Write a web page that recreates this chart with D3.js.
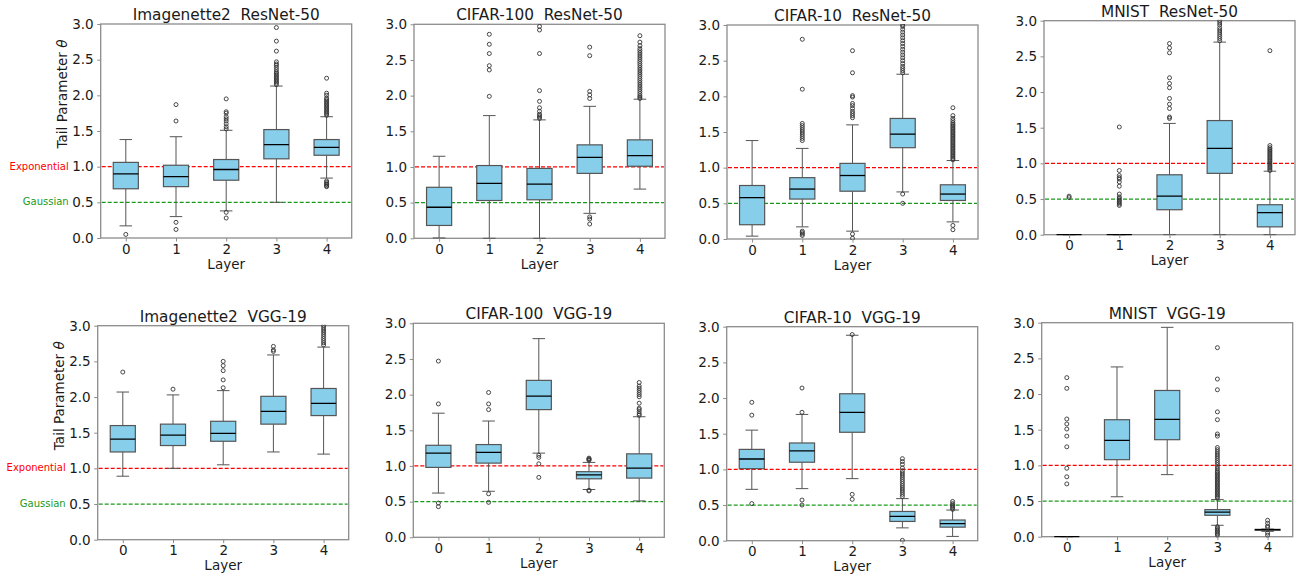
<!DOCTYPE html>
<html>
<head>
<meta charset="utf-8">
<script src="https://cdn.jsdelivr.net/npm/d3@7"></script>
<style>
  body { margin: 0; background: #fff; }
  text { font-family: "DejaVu Sans", sans-serif; }
</style>
</head>
<body>
<svg id="chart" width="1297" height="581"></svg>
<script>
// data: box stats are [whiskerLow, q1, median, q3, whiskerHigh]
const layers = [0, 1, 2, 3, 4];
const yTicks = [0, 0.5, 1.0, 1.5, 2.0, 2.5, 3.0];
const titles = [
  "Imagenette2  ResNet-50", "CIFAR-100  ResNet-50", "CIFAR-10  ResNet-50", "MNIST  ResNet-50",
  "Imagenette2  VGG-19", "CIFAR-100  VGG-19", "CIFAR-10  VGG-19", "MNIST  VGG-19"
];
const refLines = [1.0, 0.5];
const refNames = ["Exponential", "Gaussian"];

const imgResBoxes = [[0.17, 0.69, 0.90, 1.06, 1.38], [0.30, 0.72, 0.86, 1.02, 1.42], [0.38, 0.81, 0.96, 1.10, 1.51], [0.50, 1.11, 1.31, 1.52, 2.13], [0.84, 1.16, 1.27, 1.38, 1.70]];
const imgResFliers = [
  [0.05],
  [0.12, 0.22, 1.64, 1.87],
  [0.28, 0.36, 1.53, 1.56, 1.60, 1.64, 1.67, 1.70, 1.75, 1.77, 1.95],
  [2.15, 2.17, 2.19, 2.21, 2.23, 2.25, 2.27, 2.29, 2.31, 2.33, 2.36, 2.39, 2.42, 2.44, 2.47, 2.62, 2.76, 2.95],
  [0.72, 0.73, 0.75, 0.76, 0.78, 0.80, 1.72, 1.74, 1.76, 1.78, 1.80, 1.82, 1.84, 1.86, 1.88, 1.90, 1.92, 1.94, 1.96, 2.00, 2.03, 2.24]
];

const c100ResBoxes = [[0.005, 0.18, 0.435, 0.715, 1.15], [0.0, 0.53, 0.77, 1.02, 1.72], [0.0, 0.54, 0.76, 0.98, 1.66], [0.35, 0.91, 1.135, 1.31, 1.85], [0.69, 1.01, 1.16, 1.38, 1.95]];
const c100ResFliers = [
  [],
  [1.99, 2.36, 2.42, 2.59, 2.72, 2.86],
  [1.68, 1.70, 1.72, 1.74, 1.78, 1.83, 1.92, 2.07, 2.59, 2.92, 2.97],
  [0.20, 0.27, 0.30, 1.96, 2.01, 2.06, 2.56, 2.68],
  [1.96, 1.98, 2.00, 2.03, 2.06, 2.09, 2.12, 2.15, 2.18, 2.21, 2.24, 2.27, 2.30, 2.33, 2.36, 2.39, 2.42, 2.45, 2.48, 2.51, 2.54, 2.57, 2.60, 2.63, 2.66, 2.70, 2.75, 2.84]
];

const c10ResBoxes = [[0.04, 0.20, 0.58, 0.75, 1.38], [0.17, 0.56, 0.70, 0.86, 1.27], [0.11, 0.67, 0.89, 1.06, 1.60], [0.66, 1.28, 1.47, 1.69, 2.31], [0.24, 0.54, 0.63, 0.76, 1.10]];
const c10ResFliers = [
  [],
  [0.05, 0.07, 0.09, 0.11, 1.38, 1.41, 1.44, 1.47, 1.50, 1.53, 1.56, 1.59, 1.62, 2.10, 2.80],
  [0.01, 0.07, 1.70, 1.73, 1.76, 1.79, 1.83, 1.87, 1.90, 1.99, 2.01, 2.33, 2.64],
  [0.50, 0.63, 2.33, 2.36, 2.39, 2.42, 2.46, 2.50, 2.54, 2.58, 2.62, 2.66, 2.70, 2.74, 2.78, 2.82, 2.86, 2.90, 2.94, 2.98, 3.0],
  [0.13, 0.19, 1.11, 1.13, 1.15, 1.17, 1.19, 1.21, 1.23, 1.25, 1.27, 1.29, 1.31, 1.33, 1.35, 1.37, 1.39, 1.41, 1.43, 1.45, 1.47, 1.49, 1.51, 1.53, 1.55, 1.57, 1.59, 1.61, 1.63, 1.66, 1.69, 1.73, 1.84]
];

const mnistResBoxes = [[0, 0, 0, 0, 0], [0, 0, 0, 0, 0], [0.0, 0.35, 0.54, 0.84, 1.56], [0.0, 0.86, 1.21, 1.60, 2.70], [0.0, 0.11, 0.31, 0.42, 0.89]];
const mnistResFliers = [
  [0.52, 0.54],
  [0.41, 0.43, 0.45, 0.47, 0.49, 0.51, 0.53, 0.57, 0.68, 0.74, 0.78, 0.80, 0.83, 0.90, 1.51],
  [1.63, 1.65, 1.77, 1.83, 1.91, 2.06, 2.12, 2.20, 2.55, 2.62, 2.68],
  [2.72, 2.75, 2.78, 2.81, 2.84, 2.87, 2.90, 2.94, 2.97, 3.0],
  [0.90, 0.92, 0.94, 0.96, 0.98, 1.00, 1.02, 1.04, 1.06, 1.08, 1.10, 1.12, 1.14, 1.16, 1.18, 1.20, 1.22, 1.25, 2.58]
];

const imgVggBoxes = [[0.89, 1.23, 1.41, 1.60, 2.07], [1.00, 1.32, 1.465, 1.62, 2.03], [1.05, 1.38, 1.49, 1.66, 2.09], [1.23, 1.62, 1.80, 2.01, 2.59], [1.20, 1.74, 1.91, 2.12, 2.70]];
const imgVggFliers = [
  [2.35],
  [2.11],
  [2.13, 2.24, 2.37, 2.44, 2.50],
  [2.64, 2.66, 2.71],
  [2.73, 2.76, 2.79, 2.82, 2.85, 2.88, 2.91, 2.94, 2.97, 3.0]
];

const c100VggBoxes = [[0.62, 0.98, 1.18, 1.29, 1.74], [0.645, 1.04, 1.19, 1.30, 1.63], [1.18, 1.79, 1.98, 2.20, 2.785], [0.67, 0.82, 0.875, 0.92, 1.05], [0.51, 0.83, 0.97, 1.17, 1.69]];
const c100VggFliers = [
  [0.43, 0.48, 1.87, 2.47],
  [0.49, 0.61, 1.79, 1.87, 2.03],
  [0.84, 1.03, 1.12, 1.15],
  [0.65, 0.66, 1.08, 1.09, 1.10, 1.11],
  [1.71, 1.73, 1.76, 1.79, 1.81, 1.88, 1.97, 2.00, 2.03, 2.06, 2.09, 2.12, 2.17]
];

const c10VggBoxes = [[0.72, 1.01, 1.145, 1.28, 1.55], [0.73, 1.10, 1.26, 1.37, 1.77], [0.87, 1.52, 1.80, 2.06, 2.88], [0.18, 0.27, 0.34, 0.41, 0.59], [0.06, 0.19, 0.24, 0.29, 0.43]];
const c10VggFliers = [
  [0.52, 1.76, 1.94],
  [0.50, 0.57, 1.80, 2.14],
  [0.58, 0.65, 2.89],
  [0.005, 0.62, 0.65, 0.68, 0.71, 0.74, 0.77, 0.80, 0.83, 0.86, 0.89, 0.92, 0.95, 0.98, 1.02, 1.07, 1.11, 1.15],
  [0.44, 0.46, 0.48, 0.50, 0.52, 0.55]
];

const mnistVggBoxes = [[0, 0, 0, 0, 0], [0.56, 1.08, 1.35, 1.64, 2.38], [0.87, 1.36, 1.645, 2.05, 2.935], [0.16, 0.30, 0.345, 0.38, 0.52], [0.075, 0.09, 0.10, 0.103, 0.107]];
const mnistVggFliers = [
  [0.74, 0.84, 0.96, 1.26, 1.41, 1.51, 1.58, 1.65, 2.08, 2.23],
  [],
  [],
  [0.02, 0.04, 0.06, 0.08, 0.10, 0.12, 0.14, 0.54, 0.56, 0.58, 0.60, 0.62, 0.64, 0.66, 0.68, 0.70, 0.72, 0.74, 0.76, 0.78, 0.80, 0.82, 0.84, 0.86, 0.88, 0.90, 0.92, 0.95, 0.98, 1.01, 1.04, 1.07, 1.10, 1.13, 1.16, 1.19, 1.22, 1.25, 1.41, 1.44, 1.64, 1.75, 2.06, 2.21, 2.65],
  [0.02, 0.05, 0.13, 0.15, 0.19, 0.23]
];

// layout
const panelW = 251;
const panelH = 214;
const panelX = [100.7, 414, 727, 1044, 97.7, 413.3, 726.7, 1041.7];
const panelY = [24, 24.3, 25, 20.7, 325.7, 323.3, 326.7, 322.7];

const boxFill = "#87ceeb";
const boxEdge = "#555";
const spineColor = "#8c8c8c";
const textColor = "#1a1a1a";

const boxSets = [imgResBoxes, c100ResBoxes, c10ResBoxes, mnistResBoxes, imgVggBoxes, c100VggBoxes, c10VggBoxes, mnistVggBoxes];
const flierSets = [imgResFliers, c100ResFliers, c10ResFliers, mnistResFliers, imgVggFliers, c100VggFliers, c10VggFliers, mnistVggFliers];

const svg = d3.select("#chart");

const drawPanel = (i) => {
  const g = svg.append("g").attr("transform", `translate(${panelX[i]},${panelY[i]})`);
  const x = d3.scalePoint().domain(layers).range([0, panelW]).padding(0.5);
  const y = d3.scaleLinear().domain([0, 3]).range([panelH, 0]);
  const boxW = x.step() * 0.5;
  const capW = boxW * 0.5;

  // frame first, so the black flat boxes at 0 sit on the spine like in the original
  g.append("rect").attr("width", panelW).attr("height", panelH)
    .attr("fill", "none").attr("stroke", spineColor).attr("stroke-width", 1.3);

  g.append("clipPath").attr("id", "clip" + i)
    .append("rect").attr("x", -1).attr("y", -1).attr("width", panelW + 2).attr("height", panelH + 2);
  const plot = g.append("g").attr("clip-path", `url(#clip${i})`);

  // reference lines
  plot.selectAll(".ref").data(refLines).enter().append("line")
    .attr("x1", 1).attr("x2", panelW - 1)
    .attr("y1", (d) => y(d)).attr("y2", (d) => y(d))
    .attr("stroke", (d, k) => (k === 0 ? "#ff0000" : "#1a9a1a"))
    .attr("stroke-width", 1.2)
    .attr("stroke-dasharray", "4,2");

  const boxes = boxSets[i].map((s, k) => ({ layer: layers[k], s: s, fl: flierSets[i][k] }));
  const bx = plot.selectAll(".box").data(boxes).enter().append("g");

  // whiskers
  bx.append("line").attr("x1", (d) => x(d.layer)).attr("x2", (d) => x(d.layer))
    .attr("y1", (d) => y(d.s[0])).attr("y2", (d) => y(d.s[1]))
    .attr("stroke", boxEdge).attr("stroke-width", 1);
  bx.append("line").attr("x1", (d) => x(d.layer)).attr("x2", (d) => x(d.layer))
    .attr("y1", (d) => y(d.s[3])).attr("y2", (d) => y(d.s[4]))
    .attr("stroke", boxEdge).attr("stroke-width", 1);
  // caps
  [0, 4].forEach((q) => {
    bx.append("line")
      .attr("x1", (d) => x(d.layer) - capW / 2).attr("x2", (d) => x(d.layer) + capW / 2)
      .attr("y1", (d) => y(d.s[q])).attr("y2", (d) => y(d.s[q]))
      .attr("stroke", boxEdge).attr("stroke-width", 1);
  });
  // box
  bx.append("rect")
    .attr("x", (d) => x(d.layer) - boxW / 2)
    .attr("y", (d) => y(d.s[3]))
    .attr("width", boxW)
    .attr("height", (d) => y(d.s[1]) - y(d.s[3]))
    .attr("fill", boxFill).attr("stroke", boxEdge).attr("stroke-width", 1.2);
  // median
  bx.append("line")
    .attr("x1", (d) => x(d.layer) - boxW / 2).attr("x2", (d) => x(d.layer) + boxW / 2)
    .attr("y1", (d) => y(d.s[2])).attr("y2", (d) => y(d.s[2]))
    .attr("stroke", "#000").attr("stroke-width", 1.3);
  // fliers
  bx.selectAll("circle").data((d) => d.fl.map((v) => ({ layer: d.layer, v: v }))).enter()
    .append("circle")
    .attr("cx", (d) => x(d.layer)).attr("cy", (d) => y(d.v)).attr("r", 2)
    .attr("fill", "none").attr("stroke", "#333").attr("stroke-width", 0.9);

  // axes
  const yAxis = g.append("g")
    .call(d3.axisLeft(y).tickValues(yTicks).tickFormat(d3.format(".1f")).tickSize(3.5).tickPadding(3.5));
  const xAxis = g.append("g").attr("transform", `translate(0,${panelH})`)
    .call(d3.axisBottom(x).tickSize(3.5).tickPadding(2.5));
  [yAxis, xAxis].forEach((a) => {
    a.select(".domain").remove();
    a.selectAll(".tick line").attr("stroke", spineColor);
    a.selectAll(".tick text").attr("fill", textColor).style("font-size", "13.5px")
      .style("font-family", "'DejaVu Sans', sans-serif");
  });

  g.append("text").attr("x", panelW / 2).attr("y", -4)
    .attr("text-anchor", "middle").attr("fill", textColor)
    .attr("xml:space", "preserve").style("white-space", "pre")
    .style("font-size", "15.3px").text(titles[i]);

  g.append("text").attr("x", panelW / 2).attr("y", panelH + 30.5)
    .attr("text-anchor", "middle").attr("fill", textColor)
    .style("font-size", "13.5px").text("Layer");

  if (i % 4 === 0) {
    const lab = g.append("text")
      .attr("transform", `translate(${-38},${panelH / 2 - 37}) rotate(-90)`)
      .attr("text-anchor", "middle").attr("dominant-baseline", "middle")
      .attr("fill", textColor).style("font-size", "13.5px");
    lab.append("tspan").text("Tail Parameter ");
    lab.append("tspan").style("font-style", "italic").text("θ");

    g.selectAll(".refname").data(refLines).enter().append("text")
      .attr("x", -32).attr("y", (d) => y(d))
      .attr("text-anchor", "end").attr("dominant-baseline", "middle")
      .attr("fill", (d, k) => (k === 0 ? "#ff0000" : "#1a9a1a"))
      .style("font-size", "10px")
      .text((d, k) => refNames[k]);
  }
};

d3.range(8).forEach(drawPanel);
</script>
</body>
</html>
